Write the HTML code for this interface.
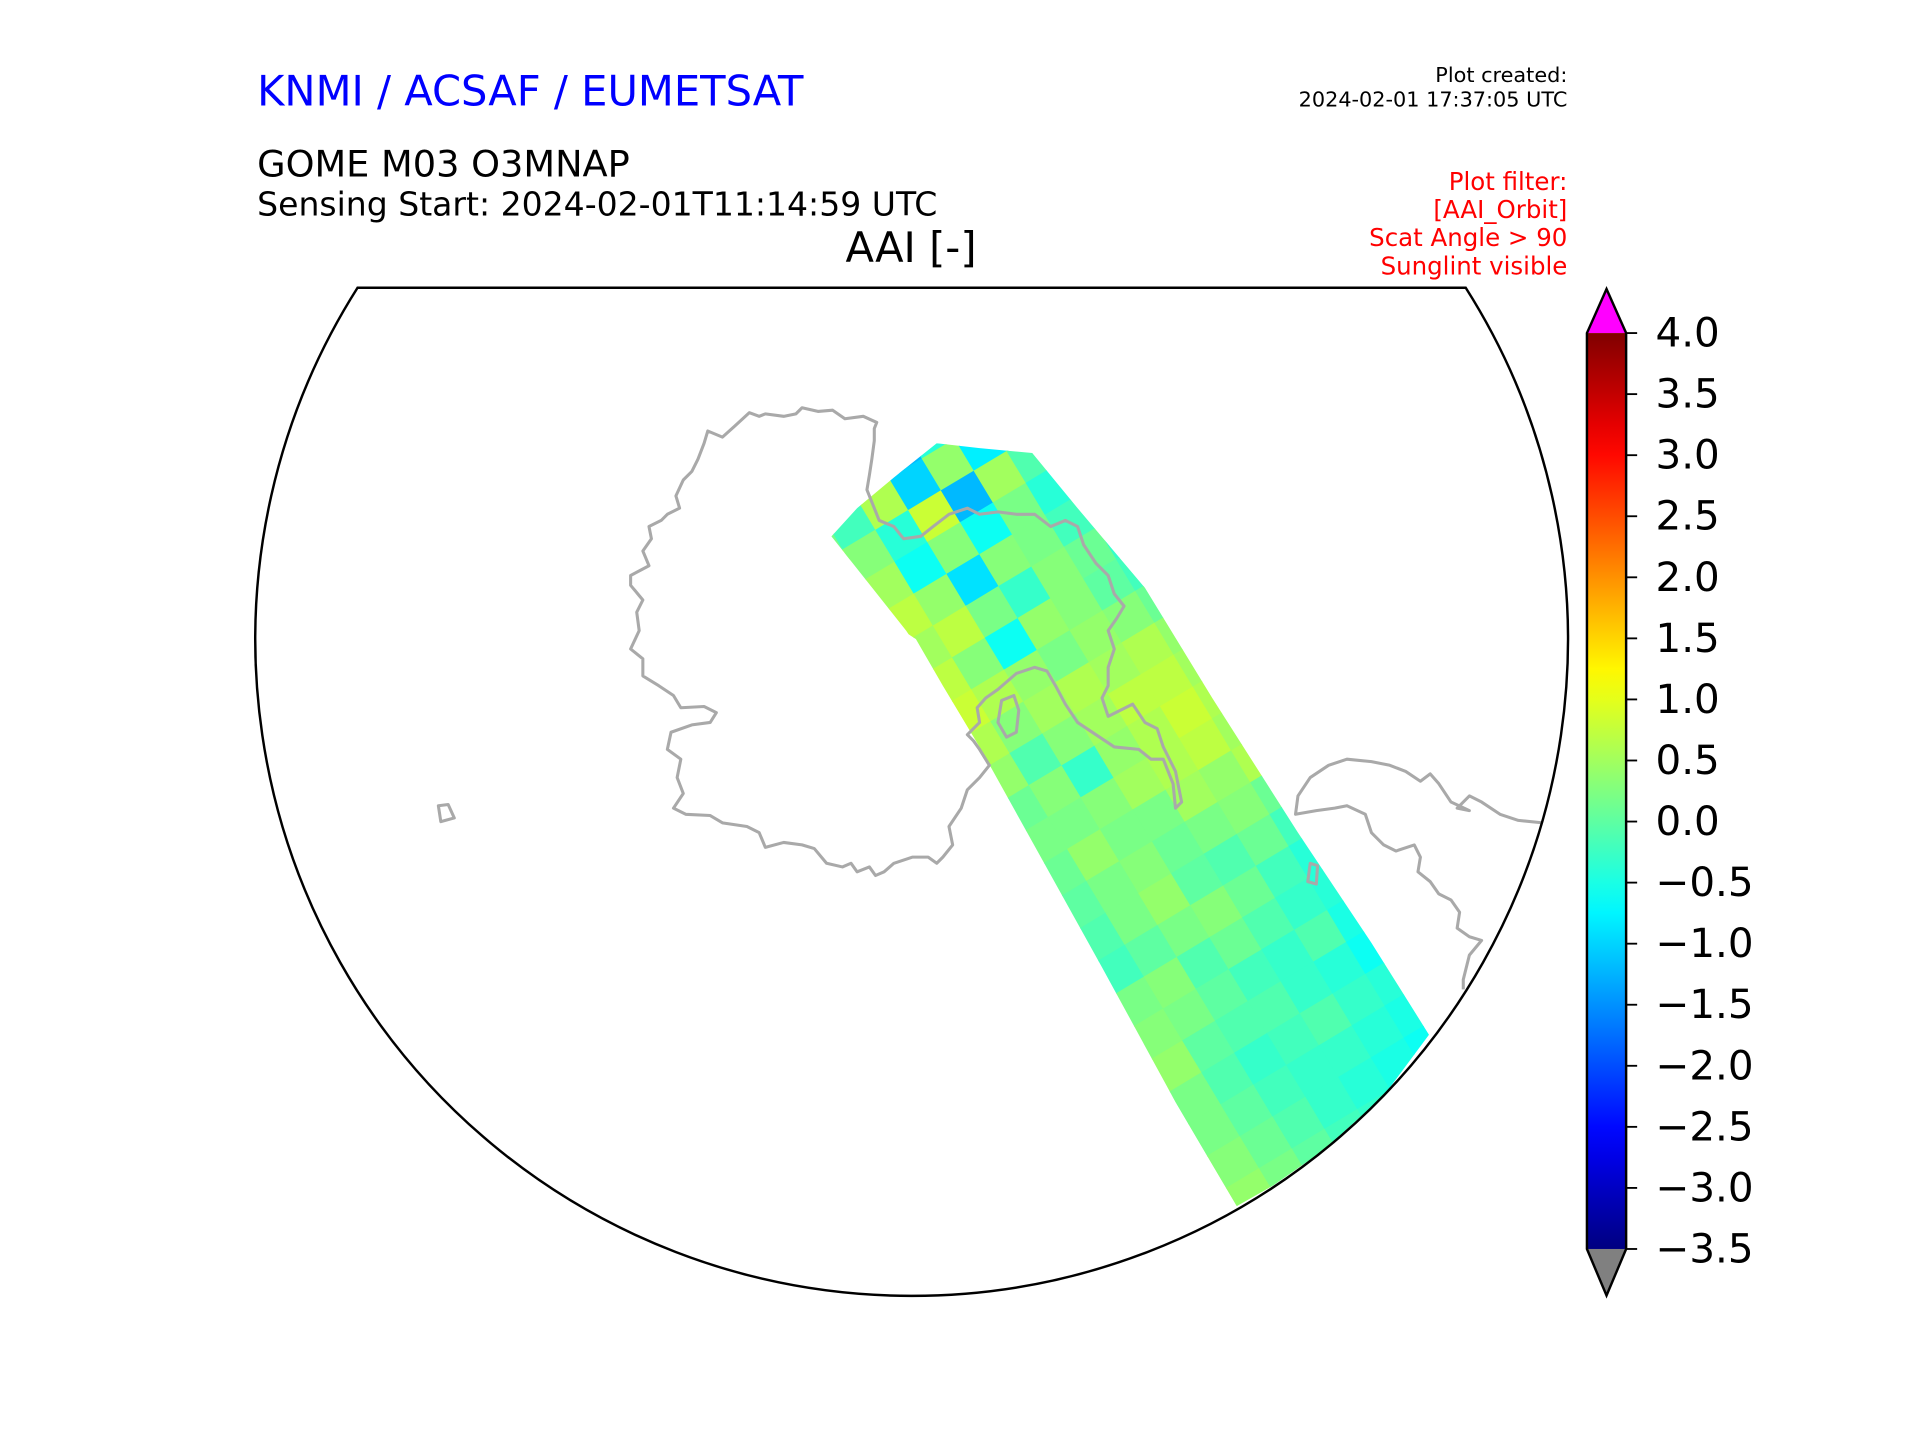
<!DOCTYPE html>
<html><head><meta charset="utf-8"><title>AAI map</title>
<style>html,body{margin:0;padding:0;background:#fff;}svg{display:block;}</style></head>
<body>
<svg id="chart" width="1920" height="1440" viewBox="0 0 1568 1176" xmlns="http://www.w3.org/2000/svg" font-family="DejaVu Sans, Liberation Sans, sans-serif">
  <rect width="1568" height="1176" fill="#fff"/>
  <text x="210" y="86" font-size="34" fill="#0000ff">KNMI / ACSAF / EUMETSAT</text>
  <text x="1280" y="67" font-size="17" text-anchor="end">Plot created:</text>
  <text x="1280" y="87" font-size="17" text-anchor="end">2024-02-01 17:37:05 UTC</text>
  <text x="210" y="144" font-size="30">GOME M03 O3MNAP</text>
  <text x="210" y="176" font-size="27">Sensing Start: 2024-02-01T11:14:59 UTC</text>
  <text x="744" y="214" font-size="34" text-anchor="middle">AAI [-]</text>
  <g fill="#ff0000" font-size="20" text-anchor="end">
    <text x="1280" y="155">Plot filter:</text>
    <text x="1280" y="178">[AAI_Orbit]</text>
    <text x="1280" y="201">Scat Angle &gt; 90</text>
    <text x="1280" y="224">Sunglint visible</text>
  </g>
  <defs>
    <clipPath id="mapclip"><path d="M292,235 L1197,235 A536,536 0 1 1 292,235 Z"/></clipPath>
    <clipPath id="swathclip"><path d="M679,438 L700,415 L730,390 L765,362 L800,366 L843,370 L880,415 L935,480 L990,570 L1060,680 L1120,770 L1167,845 L1130,895 L1080,940 L1040,968 L1010,985 L960,900 L900,790 L850,700 L800,610 L770,560 L748,522 L742,518 L740,515 Z"/></clipPath>
    <linearGradient id="jetgrad" x1="0" y1="1" x2="0" y2="0"></linearGradient>
  </defs>
  <g clip-path="url(#mapclip)">
    <g id="swath" clip-path="url(#swathclip)"></g>
    <g fill="none" stroke="#a9a9a9" stroke-width="2.5" stroke-linejoin="round">
      <path d="M714,350 L716,345 L705,340 L690,342 L680,335 L668,336 L655,333 L650,338 L640,340 L625,338 L620,340 L612,337 L600,348 L590,357 L578,352 L575,362 L570,375 L565,385 L558,392 L552,405 L555,415 L545,420 L540,425 L530,430 L532,440 L525,450 L530,462 L515,470 L515,478 L525,490 L520,500 L522,515 L515,530 L525,538 L525,552 L538,560 L550,568 L556,578 L575,577 L585,582 L580,590 L565,592 L548,598 L545,612 L556,620 L553,635 L558,648 L550,660 L560,665 L580,666 L590,672 L610,675 L620,680 L625,692 L640,688 L655,690 L665,693 L675,705 L688,708 L695,705 L700,712 L710,708 L715,715 L722,712 L730,705 L745,700 L758,700 L765,705 L770,700 L778,690 L775,675 L785,660 L790,645 L800,635 L808,625 L800,612 L795,605 L790,600 L800,590 L798,578 L805,570 L815,563 L830,550 L845,545 L855,548 L862,560 L870,575 L880,590 L895,600 L910,610 L930,612 L940,620 L950,620 L958,640 L960,660 L965,655 L960,630 L950,610 L945,595 L935,590 L925,575 L915,580 L905,585 L900,570 L905,560 L905,545 L910,530 L905,515 L912,505 L918,495 L910,485 L905,470 L895,460 L885,445 L880,430 L870,425 L858,430 L845,420 L830,420 L815,418 L800,420 L790,415 L775,420 L762,430 L752,438 L738,440 L730,430 L718,425 L712,410 L708,400 L710,388 L712,375 L714,360 Z"/>
      <path d="M818,572 L828,568 L832,580 L830,598 L822,602 L815,590 Z"/>
      <path d="M358,658 L366,657 L371,668 L360,671 Z"/>
      <path d="M1070,705 L1076,707 L1075,722 L1068,720 Z"/>
      <path d="M1260,672 L1240,670 L1225,665 L1210,655 L1200,650 L1190,660 L1200,662 L1185,655 L1175,640 L1168,632 L1160,638 L1148,630 L1135,625 L1120,622 L1100,620 L1085,625 L1070,635 L1060,650 L1058,665 L1075,662 L1090,660 L1100,658 L1115,665 L1120,680 L1130,690 L1140,695 L1155,690 L1160,700 L1158,712 L1168,720 L1175,730 L1185,735 L1192,745 L1190,758 L1200,765 L1210,768 L1200,780 L1195,800 L1195,808"/>
    </g>
  </g>
  <path d="M292,235 L1197,235 A536,536 0 1 1 292,235 Z" fill="none" stroke="#000" stroke-width="2"/>
  <g id="colorbar">
    <rect x="1296" y="272" width="32" height="748" fill="url(#jetgrad)"/>
    <path d="M1296,272 L1312,236 L1328,272 Z" fill="#ff00ff"/>
    <path d="M1296,1020 L1312,1058 L1328,1020 Z" fill="#808080"/>
    <path d="M1296,272 L1312,236 L1328,272 L1328,1020 L1312,1058 L1296,1020 Z" fill="none" stroke="#000" stroke-width="2"/>
    <g id="cbticks"></g>
  </g>
</svg>
<script>
const NS = "http://www.w3.org/2000/svg";
const tickValues = [4.0,3.5,3.0,2.5,2.0,1.5,1.0,0.5,0.0,-0.5,-1.0,-1.5,-2.0,-2.5,-3.0,-3.5];
const vmin = -3.5, vmax = 4.0;
const aaiRowsTop = [
  [-0.4,-0.3,-0.8,-1.2,-0.4,-1.0,-1.4,-0.6],
  [0.2,-0.2,0.6,-1.0,0.4,-0.8,-0.3,-0.5],
  [0.6,0.3,-0.4,0.8,-1.2,0.5,-0.1,-0.3],
  [0.8,0.5,-0.6,0.3,-0.6,0.2,-0.4,-0.2],
  [0.6,0.7,0.4,-0.9,0.3,0.2,-0.2,-0.4],
  [0.6,0.5,0.7,0.2,-0.3,0.3,0.1,-0.3]
];
const aaiRowsMid = [
  [0.6,0.7,0.3,-0.6,0.4,0.3,0.0,-0.2],
  [0.5,0.8,0.6,0.4,0.2,0.4,0.3,0.1],
  [0.4,0.6,0.3,0.5,0.6,0.5,0.6,0.4],
  [0.3,0.4,-0.1,0.3,0.5,0.7,0.7,0.5],
  [0.2,0.1,0.3,-0.3,0.4,0.6,0.8,0.6],
  [0.0,0.2,0.2,0.3,0.5,0.6,0.7,0.5],
  [-0.1,0.1,0.4,0.2,0.2,0.5,0.4,0.6],
  [-0.2,0.0,0.2,0.3,0.1,0.2,0.3,0.1]
];
const aaiRowsBottom = [
  [-0.3,-0.1,0.2,0.4,0.0,-0.1,0.1,-0.2],
  [-0.4,-0.2,0.0,0.2,0.3,0.1,-0.2,-0.4],
  [-0.2,0.2,0.3,-0.1,0.1,-0.1,-0.3,-0.4],
  [0.1,0.3,0.2,0.0,-0.2,-0.3,-0.1,-0.5],
  [0.2,0.4,0.0,-0.1,-0.1,-0.3,-0.4,-0.6],
  [0.2,0.2,-0.1,-0.3,-0.2,-0.1,-0.3,-0.4],
  [0.4,0.2,0.0,-0.2,-0.3,-0.3,-0.4,-0.5],
  [0.5,0.3,0.1,-0.1,-0.3,-0.4,-0.5,-0.6],
  [0.4,0.4,0.2,0.0,-0.2,-0.3,-0.4,-0.5],
  [0.3,0.2,0.1,-0.1,-0.1,-0.3,-0.4,-0.5]
];

function clamp(x){return Math.max(0,Math.min(1,x));}
function jet(v){
  const t = clamp((v - vmin)/(vmax - vmin));
  const r = clamp(Math.min(4*t-1.5, -4*t+4.5));
  const g = clamp(Math.min(4*t-0.5, -4*t+3.5));
  const b = clamp(Math.min(4*t+0.5, -4*t+2.5));
  return `rgb(${Math.round(r*255)},${Math.round(g*255)},${Math.round(b*255)})`;
}
const cbTop = 272, cbBottom = 1020;
function cbY(v){return cbTop + (vmax - v)/(vmax - vmin)*(cbBottom - cbTop);}
const grad = document.getElementById('jetgrad');
for(let i=0;i<=30;i++){
  const v = vmin + (vmax-vmin)*i/30;
  const s = document.createElementNS(NS,'stop');
  s.setAttribute('offset', (i/30).toFixed(4));
  s.setAttribute('stop-color', jet(v));
  grad.appendChild(s);
}
const tg = document.getElementById('cbticks');
tickValues.forEach(v=>{
  const y = cbY(v);
  const l = document.createElementNS(NS,'line');
  
  
  l.setAttribute('x1',1328); l.setAttribute('x2',1337);
  l.setAttribute('y1',y); l.setAttribute('y2',y);
  l.setAttribute('stroke','#000'); l.setAttribute('stroke-width','1.5');
  tg.appendChild(l);
  const t = document.createElementNS(NS,'text');
  
  
  t.setAttribute('x',1352); t.setAttribute('y',y+11);
  t.setAttribute('font-size','33');
  t.textContent = (v<0?'\u2212':'') + Math.abs(v).toFixed(1);
  tg.appendChild(t);
});
const rows = aaiRowsTop.concat(aaiRowsMid, aaiRowsBottom);
const origin = [652,400];
const uDir = [0.515,0.857], vDir = [0.857,-0.515];
const alongLen = 730, crossStart = -25, crossLen = 250;
function alongPos(i){return i/rows.length*alongLen;}
function crossPos(j,n){return crossStart + j/n*crossLen;}
function toXY(a,c){return [origin[0]+uDir[0]*a+vDir[0]*c, origin[1]+uDir[1]*a+vDir[1]*c];}
const sw = document.getElementById('swath');
rows.forEach((row,i)=>{
  row.forEach((val,j)=>{
    const a0=alongPos(i)-0.5, a1=alongPos(i+1)+0.5;
    const c0=crossPos(j,row.length)-0.5, c1=crossPos(j+1,row.length)+0.5;
    const pts=[toXY(a0,c0),toXY(a1,c0),toXY(a1,c1),toXY(a0,c1)];
    const p=document.createElementNS(NS,'polygon');
    
    
    p.setAttribute('points',pts.map(q=>q[0].toFixed(1)+','+q[1].toFixed(1)).join(' '));
    p.setAttribute('fill',jet(val));
    sw.appendChild(p);
  });
});
</script>
</body></html>
